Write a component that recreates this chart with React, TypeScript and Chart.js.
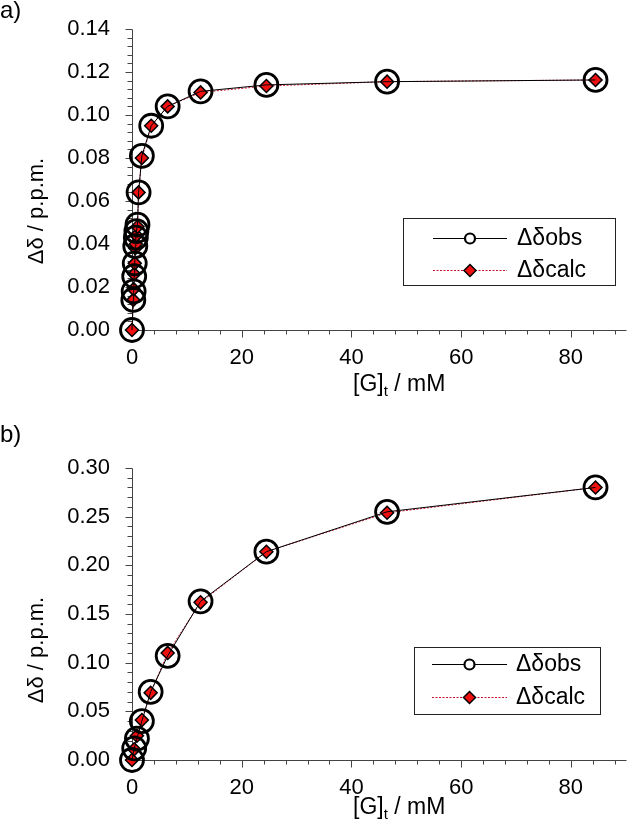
import React, { useEffect, useRef } from 'react';
import { Chart, registerables } from 'chart.js';
Chart.register(...registerables);

// ---- data ----
const xA = [0, 0.24, 0.3, 0.4, 0.5, 0.6, 0.7, 0.8, 1.0, 1.2, 1.8, 3.5, 6.5, 12.5, 24.5, 46.5, 84.5];
const obsA = [0, 0.014, 0.018, 0.025, 0.031, 0.039, 0.043, 0.046, 0.049, 0.064, 0.081, 0.095, 0.104, 0.111, 0.114, 0.1155, 0.1163];
const calcA = [0, 0.014, 0.019, 0.026, 0.031, 0.038, 0.040, 0.044, 0.048, 0.064, 0.080, 0.095, 0.104, 0.1105, 0.1135, 0.1155, 0.1163];
const xB = [0, 0.4, 0.9, 1.8, 3.4, 6.5, 12.5, 24.5, 46.5, 84.5];
const obsB = [0, 0.012, 0.022, 0.040, 0.070, 0.107, 0.163, 0.214, 0.255, 0.280];
const calcB = [0, 0.011, 0.025, 0.041, 0.069, 0.110, 0.162, 0.214, 0.254, 0.280];
const xTicks = [0, 20, 40, 60, 80];
const yTicksA = [0, 0.02, 0.04, 0.06, 0.08, 0.10, 0.12, 0.14];
const yTicksB = [0, 0.05, 0.10, 0.15, 0.20, 0.25, 0.30];
const seriesNames = ['Δδobs', 'Δδcalc'];
const xTitleParts = ['[G]', 't', ' / mM'];
const yTitle = 'Δδ / p.p.m.';
const panelNames = ['a)', 'b)'];

const FONT = '"Liberation Sans", Arial, sans-serif';

type Panel = {
  name: string;
  xs: number[];
  obs: number[];
  calc: number[];
  yTicks: number[];
  yMax: number;
  yMinor: number;
  top: number;
  height: number;
  plotTop: number;
  plotBottom: number;
  labelY: number;
  xTitleY: number;
  yTitleY: number;
  legend: { x: number; y: number; w: number; h: number; rows: number[]; textX: number; l1: number; l2: number };
};

const panels: Panel[] = [
  {
    name: panelNames[0], xs: xA, obs: obsA, calc: calcA, yTicks: yTicksA, yMax: 0.14, yMinor: 0.004,
    top: 0, height: 414, plotTop: 29, plotBottom: 330, labelY: 11, xTitleY: 385, yTitleY: 211,
    legend: { x: 403, y: 218, w: 212, h: 67, rows: [238, 270], textX: 517, l1: 433, l2: 507 },
  },
  {
    name: panelNames[1], xs: xB, obs: obsB, calc: calcB, yTicks: yTicksB, yMax: 0.30, yMinor: 0.01,
    top: 414, height: 414, plotTop: 54, plotBottom: 346, labelY: 21, xTitleY: 394, yTitleY: 236,
    legend: { x: 414, y: 233, w: 186, h: 67, rows: [250, 283], textX: 516, l1: 432, l2: 507 },
  },
];

const OBS_STYLE = { radius: 11.5, border: 2.8 };
const CALC_STYLE = { radius: 6.5, border: 1.5, fill: '#f01010', line: '#c8102e' };

function PanelChart({ p }: { p: Panel }) {
  const ref = useRef<HTMLCanvasElement>(null);
  useEffect(() => {
    if (!ref.current) return;
    const decor = {
      id: 'decor',
      beforeDatasetsDraw(chart: any) {
        const ctx = chart.ctx;
        const xs = chart.scales.x;
        const ys = chart.scales.y;
        const left = Math.round(xs.getPixelForValue(0)) + 0.5;
        const bottom = Math.round(ys.getPixelForValue(0)) + 0.5;
        ctx.save();
        ctx.strokeStyle = '#444';
        ctx.lineWidth = 1;
        ctx.beginPath();
        ctx.moveTo(left, Math.round(ys.getPixelForValue(p.yMax)) + 0.5);
        ctx.lineTo(left, bottom);
        ctx.lineTo(Math.round(xs.getPixelForValue(90)) + 0.5, bottom);
        ctx.stroke();
        // y ticks
        const nY = Math.round(p.yMax / p.yMinor);
        const majorStepY = p.yTicks[1] - p.yTicks[0];
        ctx.beginPath();
        for (let i = 0; i <= nY; i++) {
          const v = i * p.yMinor;
          const isMajor = Math.abs(v / majorStepY - Math.round(v / majorStepY)) < 1e-6;
          const y = Math.round(ys.getPixelForValue(v)) + 0.5;
          ctx.moveTo(left, y);
          ctx.lineTo(left - (isMajor ? 7 : 5), y);
        }
        // x ticks
        for (let v = 4; v <= 88; v += 4) {
          const isMajor = v % 20 === 0;
          const x = Math.round(xs.getPixelForValue(v)) + 0.5;
          ctx.moveTo(x, bottom);
          ctx.lineTo(x, bottom + (isMajor ? 7 : 4));
        }
        ctx.stroke();
        ctx.restore();
      },
      afterDraw(chart: any) {
        const ctx = chart.ctx;
        ctx.save();
        ctx.fillStyle = '#000';
        // panel label
        ctx.font = `24px ${FONT}`;
        ctx.textAlign = 'left';
        ctx.textBaseline = 'middle';
        ctx.fillText(p.name, 0, p.labelY);
        // x title with subscript
        ctx.font = `23px ${FONT}`;
        const w0 = ctx.measureText(xTitleParts[0]).width;
        ctx.font = `15px ${FONT}`;
        const w1 = ctx.measureText(xTitleParts[1]).width;
        let tx = 353;
        ctx.font = `23px ${FONT}`;
        ctx.fillText(xTitleParts[0], tx, p.xTitleY);
        tx += w0;
        ctx.font = `15px ${FONT}`;
        ctx.fillText(xTitleParts[1], tx, p.xTitleY + 7);
        tx += w1;
        ctx.font = `23px ${FONT}`;
        ctx.fillText(xTitleParts[2], tx, p.xTitleY);
        // y title
        ctx.save();
        ctx.translate(37, p.yTitleY);
        ctx.rotate(-Math.PI / 2);
        ctx.textAlign = 'center';
        ctx.font = `22px ${FONT}`;
        ctx.fillText(yTitle, 0, 0);
        ctx.restore();
        // legend
        const L = p.legend;
        ctx.strokeStyle = '#222';
        ctx.lineWidth = 1;
        ctx.strokeRect(L.x + 0.5, L.y + 0.5, L.w, L.h);
        const mid = (L.l1 + L.l2) / 2;
        // obs row
        ctx.beginPath();
        ctx.strokeStyle = '#000';
        ctx.lineWidth = 1;
        ctx.moveTo(L.l1, L.rows[0] + 0.5);
        ctx.lineTo(L.l2, L.rows[0] + 0.5);
        ctx.stroke();
        ctx.beginPath();
        ctx.lineWidth = 2.2;
        ctx.arc(mid, L.rows[0] + 0.5, 5, 0, Math.PI * 2);
        ctx.fillStyle = '#fff';
        ctx.fill();
        ctx.stroke();
        // calc row
        ctx.beginPath();
        ctx.strokeStyle = CALC_STYLE.line;
        ctx.lineWidth = 1;
        ctx.setLineDash([2, 1.5]);
        ctx.moveTo(L.l1, L.rows[1] + 0.5);
        ctx.lineTo(L.l2, L.rows[1] + 0.5);
        ctx.stroke();
        ctx.setLineDash([]);
        const r = 6;
        const cy = L.rows[1] + 0.5;
        ctx.beginPath();
        ctx.moveTo(mid - r, cy);
        ctx.lineTo(mid, cy - r);
        ctx.lineTo(mid + r, cy);
        ctx.lineTo(mid, cy + r);
        ctx.closePath();
        ctx.fillStyle = CALC_STYLE.fill;
        ctx.fill();
        ctx.strokeStyle = '#000';
        ctx.lineWidth = 1.5;
        ctx.stroke();
        // texts
        ctx.fillStyle = '#000';
        ctx.font = `23px ${FONT}`;
        ctx.textAlign = 'left';
        ctx.textBaseline = 'middle';
        ctx.fillText(seriesNames[0], L.textX, L.rows[0] + 1);
        ctx.fillText(seriesNames[1], L.textX, L.rows[1] + 1);
        ctx.restore();
      },
    };

    const chart = new Chart(ref.current, {
      type: 'line',
      data: {
        datasets: [
          {
            label: seriesNames[0],
            data: p.xs.map((x, i) => ({ x, y: p.obs[i] })),
            borderColor: '#000',
            borderWidth: 1,
            pointStyle: 'circle',
            pointRadius: OBS_STYLE.radius,
            pointBorderWidth: OBS_STYLE.border,
            pointBorderColor: '#000',
            pointBackgroundColor: 'rgba(0,0,0,0)',
            fill: false,
            tension: 0,
            clip: false as any,
          },
          {
            label: seriesNames[1],
            data: p.xs.map((x, i) => ({ x, y: p.calc[i] })),
            borderColor: CALC_STYLE.line,
            borderWidth: 1,
            borderDash: [2, 1.5],
            pointStyle: 'rectRot',
            pointRadius: CALC_STYLE.radius,
            pointBorderWidth: CALC_STYLE.border,
            pointBorderColor: '#000',
            pointBackgroundColor: CALC_STYLE.fill,
            fill: false,
            tension: 0,
            clip: false as any,
          },
        ],
      },
      options: {
        responsive: false,
        animation: false,
        events: [],
        layout: { padding: { left: 0, top: p.plotTop, right: 3, bottom: 0 } },
        plugins: { legend: { display: false }, tooltip: { enabled: false }, title: { display: false } },
        scales: {
          x: {
            type: 'linear',
            min: 0,
            max: 90,
            grid: { display: true, drawOnChartArea: false, drawTicks: true, tickLength: 15, tickColor: 'rgba(0,0,0,0)' },
            border: { display: false },
            afterBuildTicks: (s: any) => { s.ticks = xTicks.map((v) => ({ value: v })); },
            afterFit: (s: any) => { s.height = p.height - p.plotBottom; },
            ticks: {
              padding: 0,
              color: '#000',
              font: { family: FONT, size: 22 },
              maxRotation: 0,
              callback: (v: any) => String(v),
            },
          },
          y: {
            type: 'linear',
            min: 0,
            max: p.yMax,
            grid: { display: true, drawOnChartArea: false, drawTicks: true, tickLength: 22, tickColor: 'rgba(0,0,0,0)' },
            border: { display: false },
            afterBuildTicks: (s: any) => { s.ticks = p.yTicks.map((v) => ({ value: v })); },
            afterFit: (s: any) => { s.width = 132; },
            ticks: {
              padding: 0,
              color: '#000',
              font: { family: FONT, size: 22 },
              callback: (v: any) => Number(v).toFixed(2),
            },
          },
        },
      },
      plugins: [decor],
    } as any);
    return () => chart.destroy();
  }, [p]);
  return (
    <canvas
      ref={ref}
      width={640}
      height={p.height}
      style={{ position: 'absolute', left: 0, top: p.top, width: 640, height: p.height }}
    />
  );
}

export default function App() {
  useEffect(() => {
    document.body.style.margin = '0';
    document.body.style.background = '#fff';
  }, []);
  return (
    <div style={{ position: 'relative', width: 640, height: 828, background: '#fff' }}>
      {panels.map((p) => (
        <PanelChart key={p.name} p={p} />
      ))}
    </div>
  );
}
